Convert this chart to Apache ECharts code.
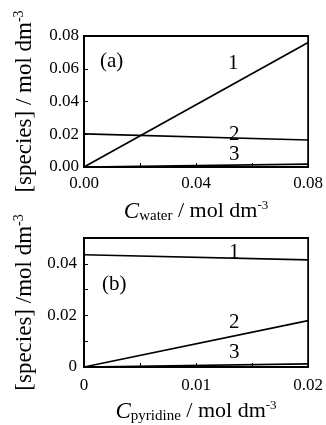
<!DOCTYPE html>
<html><head><meta charset="utf-8">
<script src="https://cdn.jsdelivr.net/npm/echarts@6/dist/echarts.min.js"></script>
<style>html,body{margin:0;padding:0;background:#fff}#c{width:326px;height:425px}</style>
</head><body><div id="c"></div>
<script>
const waterX = [0, 0.08];
const a1 = [0, 0.076];
const a2 = [0.0202, 0.0165];
const a3 = [0, 0.0018];
const pyrX = [0, 0.02];
const b1 = [0.0435, 0.0415];
const b2 = [0, 0.018];
const b3 = [0, 0.0012];
const xTicksA = ['0.00', '0.04', '0.08'];
const yTicksA = ['0.00', '0.02', '0.04', '0.06', '0.08'];
const xTicksB = ['0', '0.01', '0.02'];
const yTicksB = ['0', '0.02', '0.04'];

const font = 'Liberation Serif';
const pairs = (xs, ys) => xs.map((x, i) => [x, ys[i]]);
const richX = {
  it: {fontFamily: font, fontSize: 23, fontStyle: 'italic', color: '#000'},
  n: {fontFamily: font, fontSize: 22, color: '#000'},
  sub: {fontFamily: font, fontSize: 15, color: '#000', verticalAlign: 'bottom', padding: [10, 0, 0, 0]},
  sup: {fontFamily: font, fontSize: 13, color: '#000', verticalAlign: 'top', padding: [0, 0, 12, 0]}
};
const richY = {
  n: {fontFamily: font, fontSize: 23, color: '#000'},
  sup: {fontFamily: font, fontSize: 14, color: '#000', verticalAlign: 'top', padding: [0, 0, 12, 0]}
};
const fmt = (list) => v => {
  const alt = list.find(t => Math.abs(parseFloat(t) - v) < 1e-9);
  return alt !== undefined ? alt : '';
};
const axisCommon = {
  axisLine: {show: true, onZero: false, lineStyle: {color: '#000', width: 1.8}},
  axisTick: {show: true, inside: true, length: 4, lineStyle: {color: '#000'}},
  splitLine: {show: false},
  axisLabel: {fontFamily: font, fontSize: 17, color: '#000'}
};
const lineSeries = (xi, yi, data) => ({
  type: 'line', xAxisIndex: xi, yAxisIndex: yi, data: data, symbol: 'none',
  lineStyle: {color: '#000', width: 1.7}, silent: true, animation: false
});
const lbl = (text, left, top, size) => ({type: 'text', left: left, top: top,
  style: {text: text, font: size + 'px "Liberation Serif"', fill: '#000'}});
const chart = echarts.init(document.getElementById('c'));
chart.setOption({
  animation: false,
  backgroundColor: '#fff',
  grid: [
    {left: 84, top: 36, width: 228, height: 131, show: true, borderColor: '#000', borderWidth: 1.8},
    {left: 84, top: 238, width: 228, height: 129, show: true, borderColor: '#000', borderWidth: 1.8}
  ],
  xAxis: [
    Object.assign({}, axisCommon, {gridIndex: 0, type: 'value', min: 0, max: 0.08, interval: 0.02,
      axisLabel: Object.assign({}, axisCommon.axisLabel, {formatter: fmt(xTicksA), margin: 8}),
      name: '{it|C}{sub|water}{n| / mol dm}{sup|-3}', nameLocation: 'middle', nameGap: 32,
      nameTextStyle: {rich: richX}}),
    Object.assign({}, axisCommon, {gridIndex: 1, type: 'value', min: 0, max: 0.02, interval: 0.005,
      axisLabel: Object.assign({}, axisCommon.axisLabel, {formatter: fmt(xTicksB), margin: 10}),
      name: '{it|C}{sub|pyridine}{n| / mol dm}{sup|-3}', nameLocation: 'middle', nameGap: 32,
      nameTextStyle: {rich: richX}})
  ],
  yAxis: [
    Object.assign({}, axisCommon, {gridIndex: 0, type: 'value', min: 0, max: 0.08, interval: 0.02,
      axisLabel: Object.assign({}, axisCommon.axisLabel, {formatter: fmt(yTicksA), margin: 5}),
      name: '{n|[species] / mol dm}{sup|-3}', nameLocation: 'middle', nameGap: 46, nameRotate: 90,
      nameTextStyle: {rich: richY}}),
    Object.assign({}, axisCommon, {gridIndex: 1, type: 'value', min: 0, max: 0.05, interval: 0.01,
      axisLabel: Object.assign({}, axisCommon.axisLabel, {formatter: fmt(yTicksB), margin: 7}),
      name: '{n|[species] /mol dm}{sup|-3}', nameLocation: 'middle', nameGap: 46, nameRotate: 90,
      nameTextStyle: {rich: richY}})
  ],
  series: [
    lineSeries(0, 0, pairs(waterX, a1)),
    lineSeries(0, 0, pairs(waterX, a2)),
    lineSeries(0, 0, pairs(waterX, a3)),
    lineSeries(1, 1, pairs(pyrX, b1)),
    lineSeries(1, 1, pairs(pyrX, b2)),
    lineSeries(1, 1, pairs(pyrX, b3))
  ],
  graphic: [
    lbl('(a)', 100, 51, 21),
    lbl('1', 228, 53, 21),
    lbl('2', 229, 124, 21),
    lbl('3', 229, 144, 21),
    lbl('(b)', 102, 274, 21),
    lbl('1', 229, 242, 21),
    lbl('2', 229, 312, 21),
    lbl('3', 229, 342, 21)
  ]
});
</script></body></html>
